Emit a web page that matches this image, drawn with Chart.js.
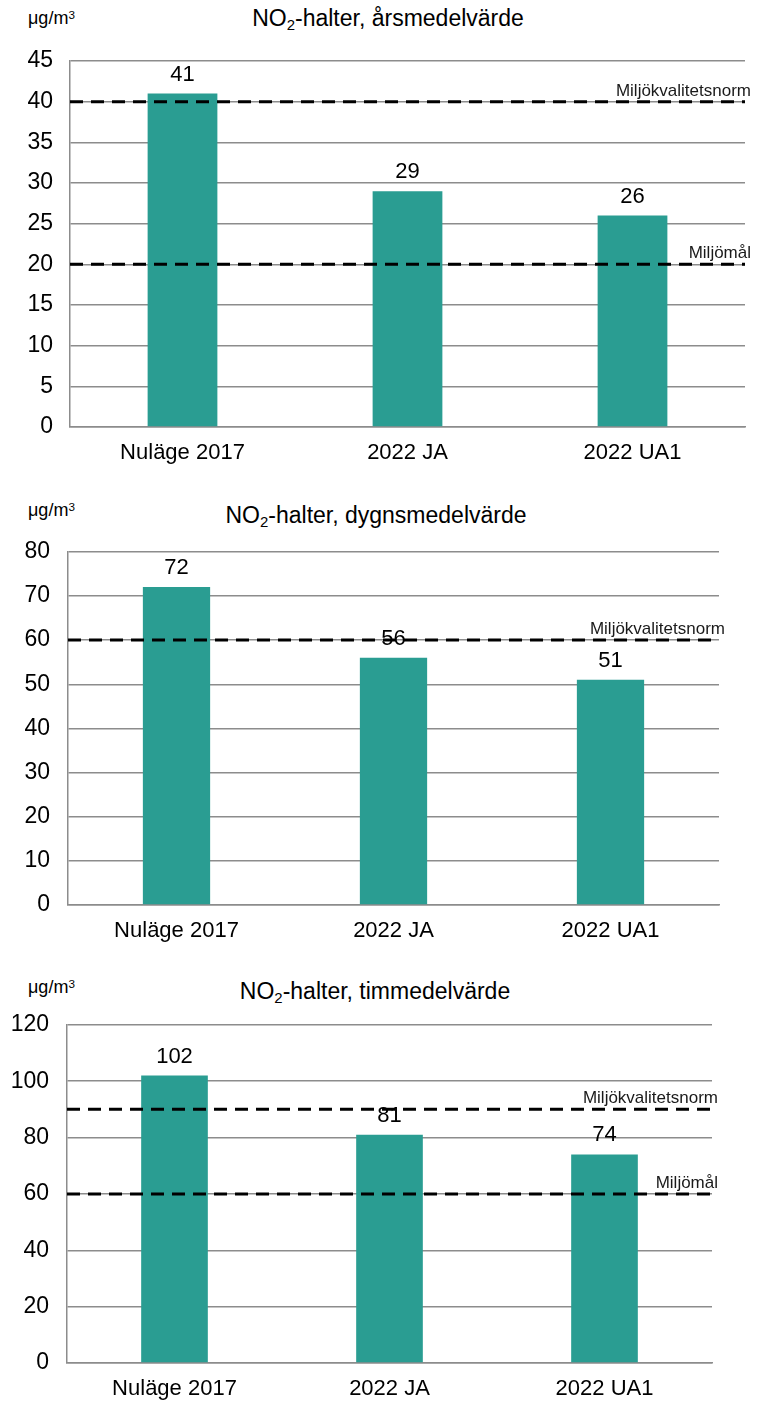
<!DOCTYPE html>
<html>
<head>
<meta charset="utf-8">
<script src="https://cdn.jsdelivr.net/npm/chart.js@4"></script>
<style>
  body { margin: 0; width: 757px; height: 1401px; background: #fff; position: relative; overflow: hidden;
         font-family: 'Liberation Sans', Arial, sans-serif; color: #000; }
  .box { position: absolute; left: 0; width: 757px; }
  .title { position: absolute; font-size: 23px; white-space: nowrap; transform: translateX(-50%); }
  .unit { position: absolute; left: 28px; font-size: 18px; white-space: nowrap; }
  sub { font-size: 0.65em; vertical-align: -0.25em; }
  sup { font-size: 0.65em; vertical-align: 0.45em; }
</style>
</head>
<body>
<div class="unit" style="top:8px">μg/m<sup>3</sup></div>
<div class="title" style="left:388px;top:5px">NO<sub>2</sub>-halter, årsmedelvärde</div>
<div class="box" style="top:30px;height:455px"><canvas id="c1"></canvas></div>

<div class="unit" style="top:500px">μg/m<sup>3</sup></div>
<div class="title" style="left:376px;top:502px">NO<sub>2</sub>-halter, dygnsmedelvärde</div>
<div class="box" style="top:520px;height:443px"><canvas id="c2"></canvas></div>

<div class="unit" style="top:977px">μg/m<sup>3</sup></div>
<div class="title" style="left:375px;top:978px">NO<sub>2</sub>-halter, timmedelvärde</div>
<div class="box" style="top:993px;height:408px"><canvas id="c3"></canvas></div>

<script>
const categories = ['Nuläge 2017', '2022 JA', '2022 UA1'];

const annualValues = [41, 29, 26];
const dailyValues = [72, 56, 51];
const hourlyValues = [102, 81, 74];

const annualRefs = [40, 20];
const annualRefLabels = ['Miljökvalitetsnorm', 'Miljömål'];
const dailyRefs = [60];
const dailyRefLabels = ['Miljökvalitetsnorm'];
const hourlyRefs = [90, 60];
const hourlyRefLabels = ['Miljökvalitetsnorm', 'Miljömål'];

const annualAxis = [0, 45, 5];
const dailyAxis = [0, 80, 10];
const hourlyAxis = [0, 120, 20];

const FONT = "'Liberation Sans', Arial, sans-serif";
const BAR = '#2a9d92';
const GRID = '#8c8c8c';

// dashed reference lines + value labels above bars
const extras = {
    id: 'extras',
    afterDatasetsDraw(chart) {
        const ctx = chart.ctx;
        const area = chart.chartArea;
        const y = chart.scales.y;
        const refs = chart.options.plugins.extras.refs;
        const labels = chart.options.plugins.extras.labels;
        ctx.save();
        refs.forEach((v, i) => {
            const py = y.getPixelForValue(v);
            ctx.strokeStyle = '#000';
            ctx.lineWidth = 3;
            ctx.setLineDash([13, 8]);
            ctx.beginPath();
            ctx.moveTo(area.left, py);
            ctx.lineTo(area.right, py);
            ctx.stroke();
            ctx.setLineDash([]);
            ctx.fillStyle = '#1a1a1a';
            ctx.font = '17px ' + FONT;
            ctx.textAlign = 'right';
            ctx.textBaseline = 'alphabetic';
            ctx.fillText(labels[i], area.right + 6, py - 6);
        });
        const meta = chart.getDatasetMeta(0);
        ctx.fillStyle = '#000';
        ctx.font = '22px ' + FONT;
        ctx.textAlign = 'center';
        meta.data.forEach((bar, i) => {
            ctx.fillText(chart.data.datasets[0].data[i], bar.x, bar.y - 13);
        });
        ctx.restore();
    }
};

function makeChart(id, values, axis, refs, refLabels, lay) {
    new Chart(document.getElementById(id).getContext('2d'), {
        type: 'bar',
        data: {
            labels: categories,
            datasets: [{
                data: values,
                backgroundColor: BAR,
                barPercentage: 0.31,
                categoryPercentage: 1
            }]
        },
        plugins: [extras],
        options: {
            responsive: true,
            maintainAspectRatio: false,
            animation: false,
            layout: { padding: { top: lay.top, right: lay.right, left: 0, bottom: 0 } },
            plugins: {
                legend: { display: false },
                tooltip: { enabled: false },
                extras: { refs: refs, labels: refLabels }
            },
            scales: {
                x: {
                    grid: { display: false, drawTicks: false },
                    border: { color: GRID, width: 1.5 },
                    ticks: { color: '#000', font: { family: FONT, size: 22 }, padding: lay.xPad, maxRotation: 0 },
                    afterFit: (s) => { s.height = lay.xHeight; }
                },
                y: {
                    min: axis[0],
                    max: axis[1],
                    grid: { color: GRID, lineWidth: 1.5, drawTicks: false },
                    border: { color: GRID, width: 1.5 },
                    ticks: { stepSize: axis[2], color: '#000', font: { family: FONT, size: 23 }, padding: lay.yPad },
                    afterFit: (s) => { s.width = lay.yWidth; }
                }
            }
        }
    });
}

makeChart('c1', annualValues, annualAxis, annualRefs, annualRefLabels,
    { top: 31, right: 12, yWidth: 70, yPad: 17, xHeight: 58, xPad: 13 });
makeChart('c2', dailyValues, dailyAxis, dailyRefs, dailyRefLabels,
    { top: 31, right: 38, yWidth: 68, yPad: 18, xHeight: 58, xPad: 13 });
makeChart('c3', hourlyValues, hourlyAxis, hourlyRefs, hourlyRefLabels,
    { top: 31, right: 45, yWidth: 67, yPad: 18, xHeight: 38, xPad: 13 });
</script>
</body>
</html>
